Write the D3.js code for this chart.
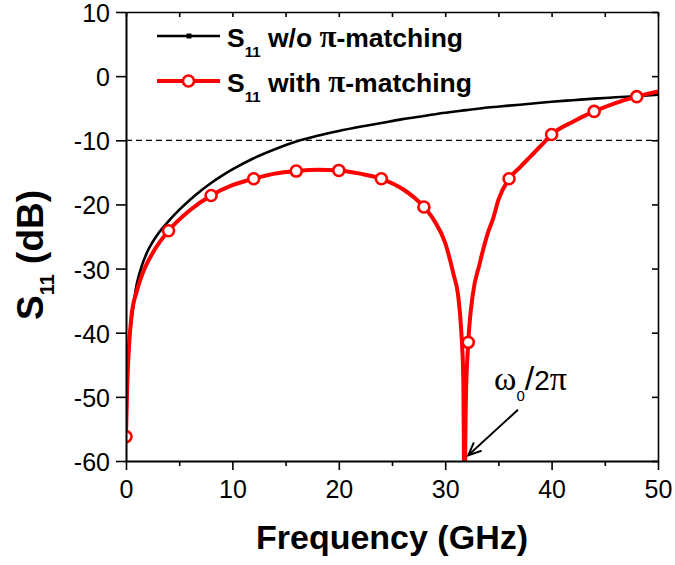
<!DOCTYPE html>
<html>
<head>
<meta charset="utf-8">
<script src="https://cdn.jsdelivr.net/npm/d3@7"></script>
<style>
  html, body { margin: 0; padding: 0; background: #fff; }
  svg { display: block; }
</style>
</head>
<body>
<svg id="chart" width="675" height="565"></svg>
<script>
// Return loss of the port, without and with the pi matching network
const plainFreq = [0, 0.1, 0.3, 0.6, 1, 1.5, 2, 3, 4, 5, 6, 7, 8, 9, 10, 12, 14, 16, 18, 20, 22, 24, 26, 28, 30, 32, 34, 36, 38, 40, 42, 44, 46, 48, 50];
const plainDb   = [-56, -48, -41.5, -37, -32.5, -29.5, -27.4, -24.6, -22.6, -20.85, -19.3, -17.9, -16.65, -15.55, -14.55, -12.8, -11.4, -10.2, -9.3, -8.55, -7.9, -7.3, -6.7, -6.2, -5.7, -5.3, -4.9, -4.6, -4.3, -4.0, -3.75, -3.5, -3.3, -3.1, -2.9];

const matchedFreq = [0, 0.1, 0.22, 0.5, 1, 1.5, 2.6, 4, 6, 8, 10, 12, 14, 16, 18, 20, 22, 24, 26, 28, 29, 30, 30.8, 31.2, 31.5, 31.7, 31.8, 31.95, 32.17, 32.6, 33.2, 34, 34.5, 35, 36, 37, 38, 39, 40, 42, 44, 46, 48, 50];
const matchedDb   = [-56.2, -49, -44, -37.6, -33.6, -31.0, -27.3, -24.1, -20.9, -18.6, -17.0, -16.0, -15.2, -14.8, -14.6, -14.7, -15.2, -16.0, -17.6, -20.4, -22.6, -26.0, -31.0, -34.0, -39.5, -47, -66, -50, -41.5, -34.0, -29.5, -24.5, -22.2, -19.3, -16.0, -14.25, -12.55, -10.85, -9.1, -7.1, -5.5, -4.2, -3.2, -2.4];
const markerFreq  = [0, 4, 8, 12, 16, 20, 24, 28, 32.17, 36, 40, 44, 48];

const freqTicks  = [0, 10, 20, 30, 40, 50];
const freqMinor  = [5, 15, 25, 35, 45];
const dbTicks    = [10, 0, -10, -20, -30, -40, -50, -60];
const thresholdDb = -10;

const legendNames = ["w/o ", "with "];

const svg = d3.select("#chart");
const plotLeft = 126, plotRight = 658, plotTop = 12, plotBottom = 461;

const x = d3.scaleLinear().domain([0, 50]).range([plotLeft, plotRight]);
const y = d3.scaleLinear().domain([-60, 10]).range([plotBottom, plotTop]);

const sans = "'Liberation Sans', Arial, sans-serif";
const serif = "'Liberation Serif', 'Times New Roman', serif";

svg.append("rect").attr("width", 675).attr("height", 565).attr("fill", "#fff");

svg.append("defs").append("clipPath").attr("id", "plotClip")
  .append("rect").attr("x", plotLeft).attr("y", plotTop)
  .attr("width", plotRight - plotLeft).attr("height", plotBottom - plotTop);

// -10 dB reference line
svg.append("line")
  .attr("x1", x(0)).attr("x2", x(50))
  .attr("y1", y(thresholdDb)).attr("y2", y(thresholdDb))
  .attr("stroke", "#000").attr("stroke-width", 1.3)
  .attr("stroke-dasharray", "6,4");

const plot = svg.append("g").attr("clip-path", "url(#plotClip)");

const line = d3.line()
  .x(d => x(d[0])).y(d => y(d[1]))
  .curve(d3.curveMonotoneX);

const plainPts = plainFreq.map((f, i) => [f, plainDb[i]]);
const matchedPts = matchedFreq.map((f, i) => [f, matchedDb[i]]);

plot.append("path").datum(plainPts)
  .attr("d", line).attr("fill", "none")
  .attr("stroke", "#000").attr("stroke-width", 2.6);

plot.append("path").datum(matchedPts)
  .attr("d", line).attr("fill", "none")
  .attr("stroke", "#ff0000").attr("stroke-width", 4)
  .attr("stroke-linejoin", "round");

plot.selectAll("circle.mk")
  .data(matchedPts.filter(p => markerFreq.includes(p[0])))
  .join("circle").attr("class", "mk")
  .attr("cx", d => x(d[0])).attr("cy", d => y(d[1]))
  .attr("r", 5.5).attr("fill", "#fff")
  .attr("stroke", "#ff0000").attr("stroke-width", 2.6);

// Axes
const fmt = d => String(d);
function styleAxis(g, width) {
  g.selectAll("path.domain").attr("stroke", "#000").attr("stroke-width", width);
  g.selectAll(".tick line").attr("stroke", "#000").attr("stroke-width", 1.6);
  g.selectAll(".tick text").attr("font-family", sans).attr("font-size", 25).attr("fill", "#000");
}

const gBottom = svg.append("g").attr("transform", `translate(0,${plotBottom})`)
  .call(d3.axisBottom(x).tickValues(freqTicks).tickFormat(fmt).tickSize(9).tickSizeOuter(0).tickPadding(10));
styleAxis(gBottom, 2);

const gBottomMinor = svg.append("g").attr("transform", `translate(0,${plotBottom})`)
  .call(d3.axisBottom(x).tickValues(freqMinor).tickFormat("").tickSize(5).tickSizeOuter(0));
gBottomMinor.select("path.domain").remove();
styleAxis(gBottomMinor, 2);

const gLeft = svg.append("g").attr("transform", `translate(${plotLeft},0)`)
  .call(d3.axisLeft(y).tickValues(dbTicks).tickFormat(fmt).tickSize(10).tickSizeOuter(0).tickPadding(6));
styleAxis(gLeft, 2);
gLeft.selectAll(".tick text").attr("dy", "0.38em");

const gTop = svg.append("g").attr("transform", `translate(0,${plotTop})`)
  .call(d3.axisTop(x).tickValues(freqTicks.concat(freqMinor)).tickFormat("").tickSize(-5).tickSizeOuter(0));
styleAxis(gTop, 1.6);

const gRight = svg.append("g").attr("transform", `translate(${plotRight},0)`)
  .call(d3.axisRight(y).tickValues(dbTicks).tickFormat("").tickSize(-6).tickSizeOuter(0));
styleAxis(gRight, 1.6);

// Axis titles
svg.append("text")
  .attr("x", (plotLeft + plotRight) / 2).attr("y", 549)
  .attr("text-anchor", "middle")
  .attr("font-family", sans).attr("font-weight", "bold").attr("font-size", 34)
  .text("Frequency (GHz)");

const yTitle = svg.append("text")
  .attr("transform", "translate(43,255) rotate(-90)")
  .attr("text-anchor", "middle")
  .attr("font-family", sans).attr("font-weight", "bold").attr("font-size", 37);
yTitle.append("tspan").text("S");
yTitle.append("tspan").attr("font-size", 20).attr("dy", 11).text("11");
yTitle.append("tspan").attr("dy", -11).text(" (dB)");

// Legend
const legendRows = [
  { name: legendNames[0], color: "#000", width: 2.6, y: 36, marker: "square" },
  { name: legendNames[1], color: "#ff0000", width: 4, y: 81, marker: "circle" }
];
legendRows.forEach(r => {
  svg.append("line").attr("x1", 157).attr("x2", 220)
    .attr("y1", r.y).attr("y2", r.y)
    .attr("stroke", r.color).attr("stroke-width", r.width);
  if (r.marker === "square") {
    svg.append("rect").attr("x", 186.5).attr("y", r.y - 2.5)
      .attr("width", 5).attr("height", 5).attr("fill", r.color);
  } else {
    svg.append("circle").attr("cx", 188.5).attr("cy", r.y).attr("r", 5.5)
      .attr("fill", "#fff").attr("stroke", r.color).attr("stroke-width", 2.6);
  }
  const t = svg.append("text").attr("x", 227).attr("y", r.y + 10.5)
    .attr("font-family", sans).attr("font-weight", "bold").attr("font-size", 26.5);
  t.append("tspan").text("S");
  t.append("tspan").attr("font-size", 15).attr("dy", 10).text("11");
  t.append("tspan").attr("dy", -10).text(" " + r.name);
  t.append("tspan").attr("font-family", serif).attr("font-size", 31).text("\u03c0");
  t.append("tspan").text("-matching");
});

// Resonance annotation
const note = svg.append("text").attr("x", 494).attr("y", 390)
  .attr("font-family", sans).attr("font-size", 28).attr("fill", "#000");
note.append("tspan").attr("font-family", serif).attr("font-size", 34).text("\u03c9");
note.append("tspan").attr("font-size", 15).attr("dy", 11).text("0");
note.append("tspan").attr("dy", -11).attr("font-size", 34).text("/");
note.append("tspan").text("2");
note.append("tspan").attr("font-family", serif).attr("font-size", 34).text("\u03c0");

const tail = [x(36.84), y(-52.0)];
const tip = [x(32.17), y(-59.1)];
svg.append("line")
  .attr("x1", tail[0]).attr("y1", tail[1])
  .attr("x2", tip[0]).attr("y2", tip[1])
  .attr("stroke", "#000").attr("stroke-width", 2);
const ang = Math.atan2(tip[1] - tail[1], tip[0] - tail[0]);
const headLen = 14, headSpread = 0.42;
const p1 = [tip[0] - headLen * Math.cos(ang - headSpread), tip[1] - headLen * Math.sin(ang - headSpread)];
const p2 = [tip[0] - headLen * Math.cos(ang + headSpread), tip[1] - headLen * Math.sin(ang + headSpread)];
svg.append("path")
  .attr("d", `M${p1[0]},${p1[1]} L${tip[0]},${tip[1]} L${p2[0]},${p2[1]}`)
  .attr("fill", "none").attr("stroke", "#000").attr("stroke-width", 2)
  .attr("stroke-linejoin", "miter");
</script>
</body>
</html>
